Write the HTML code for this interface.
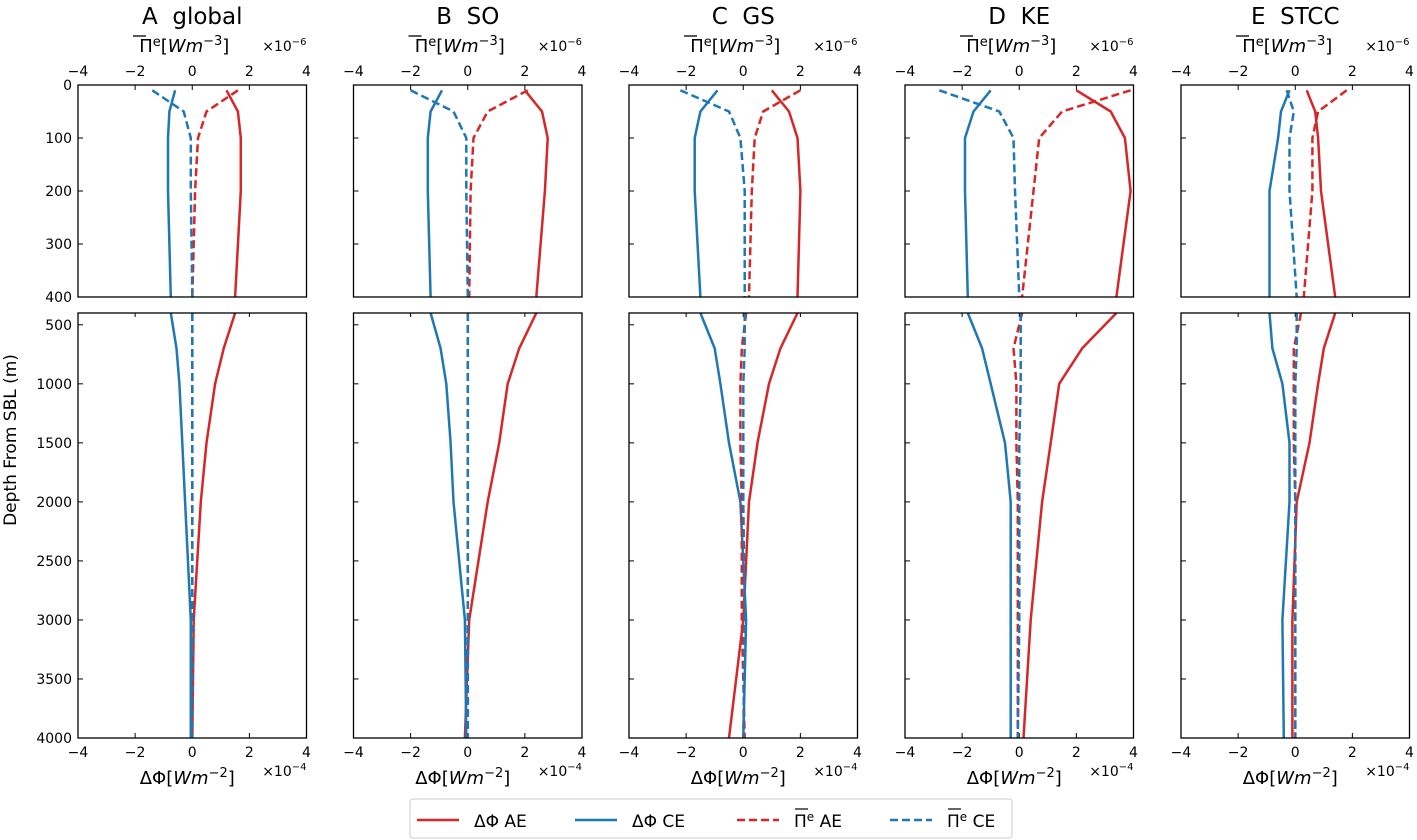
<!DOCTYPE html>
<html><head><meta charset="utf-8"><style>
html,body{margin:0;padding:0;background:#fff;}
svg{display:block;font-family:"DejaVu Sans","Liberation Sans",sans-serif;}
</style></head><body>
<svg id="fig" width="1417" height="840" viewBox="0 0 1417 840" xmlns="http://www.w3.org/2000/svg"></svg>
<script>
const panelNames = ["A\u00A0\u00A0global","B\u00A0\u00A0SO","C\u00A0\u00A0GS","D\u00A0\u00A0KE","E\u00A0\u00A0STCC"];
const topDepths = [10,50,100,200,400];
const botDepths = [400,700,1000,1500,2000,3000,4000];
const topPhiAE = [[1.2,1.6,1.7,1.7,1.5],[2.0,2.6,2.8,2.7,2.4],[1.0,1.6,1.9,2.0,1.9],[2.0,3.2,3.7,3.9,3.4],[0.4,0.7,0.8,0.9,1.4]];
const topPhiCE = [[-0.6,-0.8,-0.85,-0.85,-0.75],[-0.9,-1.3,-1.4,-1.4,-1.3],[-0.9,-1.5,-1.7,-1.7,-1.5],[-1.0,-1.6,-1.9,-1.9,-1.8],[-0.2,-0.5,-0.6,-0.9,-0.9]];
const topPiAE = [[1.6,0.5,0.2,0.1,0.0],[2.1,0.7,0.2,0.1,0.05],[2.0,0.7,0.4,0.3,0.2],[3.9,1.5,0.7,0.5,0.1],[1.8,0.8,0.6,0.6,0.3]];
const topPiCE = [[-1.4,-0.3,-0.05,-0.05,0.0],[-2.0,-0.5,-0.05,-0.05,0.0],[-2.2,-0.5,-0.1,0.05,0.05],[-2.8,-0.7,-0.2,-0.15,0.0],[-0.3,-0.05,-0.2,-0.2,0.05]];
const botPhiAE = [[1.5,1.1,0.8,0.5,0.3,0.05,0.0],[2.4,1.8,1.4,1.1,0.7,0.05,-0.1],[1.9,1.3,0.9,0.5,0.2,0.0,-0.5],[3.4,2.2,1.4,1.1,0.8,0.4,0.15],[1.4,1.0,0.8,0.5,0.05,-0.1,-0.1]];
const botPhiCE = [[-0.75,-0.55,-0.45,-0.35,-0.25,-0.05,-0.05],[-1.3,-0.95,-0.75,-0.6,-0.5,-0.1,-0.05],[-1.5,-1.0,-0.8,-0.5,-0.1,0.1,0.0],[-1.8,-1.3,-1.0,-0.5,-0.3,-0.3,-0.3],[-0.9,-0.8,-0.45,-0.2,-0.2,-0.45,-0.4]];
const botPiAE = [[0,0,0,0,0,0,0],[0,0,0,0,0,0,0],[0.1,-0.05,-0.1,-0.1,-0.05,-0.05,0.05],[0.1,-0.2,-0.1,-0.1,-0.05,-0.05,-0.05],[0.2,-0.05,-0.05,-0.05,0,0,0]];
const botPiCE = [[0,0,0,0,0,0,0],[0,0,0,0,0,0,0],[0.05,0.05,0,0,0,0.05,0],[0.05,0.05,0.05,0,0,0,-0.05],[0.05,0.05,0,0,0,0,0]];
const xTicks = [-4,-2,0,2,4];
const topYTicks = [0,100,200,300,400];
const botYTicks = [500,1000,1500,2000,2500,3000,3500,4000];

const NS="http://www.w3.org/2000/svg";
const svg=document.getElementById('fig');
function mk(tag,attrs,parent,text){const e=document.createElementNS(NS,tag);for(const k in attrs)e.setAttribute(k,attrs[k]);if(text!==undefined)e.textContent=text;(parent||svg).appendChild(e);return e;}
const RED="#d62728",BLUE="#1f77b4";
const panelX=[78,353.5,629,905,1181], PW=228.5;
const TOP0=85,TOP1=297,BOT0=313,BOT1=738;
function fmt(v){return v<0?"\u2212"+Math.abs(v):String(v);}
function yTop(d){return TOP0+(d-0)/400*(TOP1-TOP0);}
function yBot(d){return BOT0+(d-400)/3600*(BOT1-BOT0);}

panelNames.forEach((name,i)=>{
  const x0=panelX[i];
  const xs=v=>x0+(v+4)/8*PW;
  const g=mk('g',{},svg);
  
  
  const t=mk('text',{x:x0+PW/2,y:24,'text-anchor':'middle','font-size':23},g,name);
  
  const tl=mk('text',{x:x0+PW/2-8,y:52,'text-anchor':'middle','font-size':18},g);
  
  tl.innerHTML='<tspan>\u03A0</tspan><tspan font-size="13" dy="-6">e</tspan><tspan dy="6">[</tspan><tspan font-style="italic">Wm</tspan><tspan font-size="13" dy="-7">\u22123</tspan><tspan dy="7">]</tspan>';
  mk('line',{x1:x0+55,x2:x0+68,y1:36,y2:36,stroke:'#000','stroke-width':1.3},g);
  const tm=mk('text',{x:x0+PW,y:51,'text-anchor':'end','font-size':14},g);
  tm.innerHTML='\u00D710<tspan font-size="10" dy="-6">\u22126</tspan>';
  
  const bl=mk('text',{x:x0+PW/2-5,y:784,'text-anchor':'middle','font-size':18},g);
  bl.innerHTML='\u0394\u03A6[<tspan font-style="italic">Wm</tspan><tspan font-size="13" dy="-7">\u22122</tspan><tspan dy="7">]</tspan>';
  
  const bm=mk('text',{x:x0+PW,y:776,'text-anchor':'end','font-size':14},g);
  bm.innerHTML='\u00D710<tspan font-size="10" dy="-6">\u22124</tspan>';
  
  xTicks.forEach(v=>{
    const X=xs(v);
    const a=mk('text',{x:X,y:76,'text-anchor':'middle','font-size':14},g,fmt(v));
    
    const b=mk('text',{x:X,y:757,'text-anchor':'middle','font-size':14},g,fmt(v));
    
    mk('line',{x1:X,x2:X,y1:TOP0,y2:TOP0+5,stroke:'#000','stroke-width':1},g);
    mk('line',{x1:X,x2:X,y1:BOT1,y2:BOT1-5,stroke:'#000','stroke-width':1},g);
    mk('line',{x1:X,x2:X,y1:BOT0,y2:BOT0+4,stroke:'#000','stroke-width':1},g);
  });
  topYTicks.forEach(d=>{
    const Y=yTop(d);
    mk('line',{x1:x0,x2:x0+5,y1:Y,y2:Y,stroke:'#000','stroke-width':1},g);
    if(i===0){const l=mk('text',{x:x0-6,y:Y+5,'text-anchor':'end','font-size':14},g,String(d));
      }
  });
  botYTicks.forEach(d=>{
    const Y=yBot(d);
    mk('line',{x1:x0,x2:x0+5,y1:Y,y2:Y,stroke:'#000','stroke-width':1},g);
    if(i===0){const l=mk('text',{x:x0-6,y:Y+5,'text-anchor':'end','font-size':14},g,String(d));
      }
  });
  function series(vals,depths,yf,color,dash,nm){
    const pts=vals.map((v,k)=>xs(v).toFixed(1)+','+yf(depths[k]).toFixed(1)).join(' ');
    const p=mk('polyline',{points:pts,fill:'none',stroke:color,'stroke-width':2.5,'stroke-dasharray':dash?'8,4':'none','stroke-linejoin':'round'},g);
    
    
  }
  series(topPhiAE[i],topDepths,yTop,RED,false,'dphi-ae-line-top');
  series(topPhiCE[i],topDepths,yTop,BLUE,false,'dphi-ce-line-top');
  series(topPiAE[i],topDepths,yTop,RED,true,'pi-ae-line-top');
  series(topPiCE[i],topDepths,yTop,BLUE,true,'pi-ce-line-top');
  series(botPhiAE[i],botDepths,yBot,RED,false,'dphi-ae-line-bottom');
  series(botPhiCE[i],botDepths,yBot,BLUE,false,'dphi-ce-line-bottom');
  series(botPiAE[i],botDepths,yBot,RED,true,'pi-ae-line-bottom');
  series(botPiCE[i],botDepths,yBot,BLUE,true,'pi-ce-line-bottom');
  const f1=mk('rect',{x:x0,y:TOP0,width:PW,height:TOP1-TOP0,fill:'none',stroke:'#000','stroke-width':1.3},g);
  
  const f2=mk('rect',{x:x0,y:BOT0,width:PW,height:BOT1-BOT0,fill:'none',stroke:'#000','stroke-width':1.3},g);
  
});
const yl=mk('text',{x:16,y:440,'text-anchor':'middle','font-size':17,transform:'rotate(-90 16 440)'},svg,'Depth From SBL (m)');

const lg=mk('g',{},svg);

mk('rect',{x:410,y:799,width:602,height:39,rx:3,fill:'#fff',stroke:'#ccc','stroke-width':1},lg);
const entries=[[417,RED,false,'\u0394\u03A6 AE'],[575,BLUE,false,'\u0394\u03A6 CE'],[737,RED,true,'\u03A0e AE'],[890,BLUE,true,'\u03A0e CE']];
entries.forEach(([x,c,d,lab])=>{
  const e=mk('g',{},lg);
  
  mk('line',{x1:x,x2:x+42,y1:820,y2:820,stroke:c,'stroke-width':2.5,'stroke-dasharray':d?'8,4':'none'},e);
  const t=mk('text',{x:x+57,y:827,'font-size':17},e);
  if(d){t.innerHTML='<tspan>\u03A0</tspan><tspan font-size="12" dy="-6">e</tspan><tspan dy="6"> '+lab.slice(3)+'</tspan>';
    mk('line',{x1:x+58,x2:x+71,y1:809,y2:809,stroke:'#000','stroke-width':1.2},e);}
  else t.textContent=lab;
});
</script>
</body></html>
